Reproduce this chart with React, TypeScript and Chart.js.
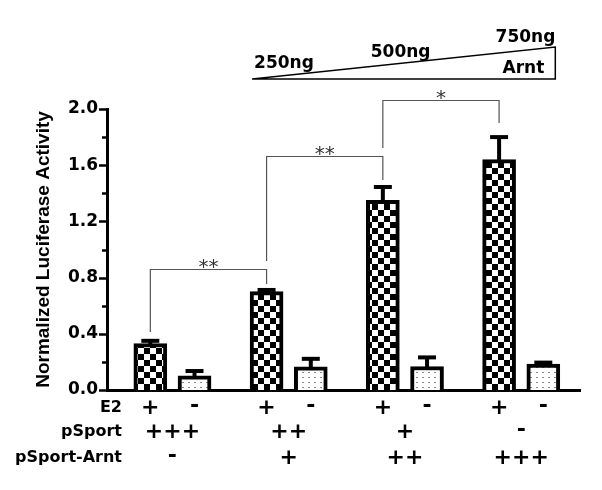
import React, { useEffect, useRef } from 'react';
import { Chart, registerables } from 'chart.js';

Chart.register(...registerables);

// ---- data ----
const groups = ['G1', 'G2', 'G3', 'G4'];
const e2PlusValues = [0.33, 0.70, 1.35, 1.64];
const e2PlusErrors = [0.02, 0.012, 0.095, 0.16];
const e2MinusValues = [0.10, 0.165, 0.167, 0.185];
const e2MinusErrors = [0.035, 0.057, 0.065, 0.01];
const yMin = 0;
const yMax = 2.0;
const yStep = 0.2;
const yTitle = 'Normalized Luciferase Activity';
const rowNames = ['E2', 'pSport', 'pSport-Arnt'];
const e2Signs = ['+', '-'];
const pSportSigns = ['+++', '++', '+', '-'];
const arntSigns = ['-', '+', '++', '+++'];
const doseLabels = ['250ng', '500ng', '750ng'];
const doseName = 'Arnt';
// significance brackets: between E2+ bars of groups
const sigFromGroup = [0, 1, 2];
const sigToGroup = [1, 2, 3];
const sigLevel = [0.861, 1.665, 2.064];
const sigFromEnd = [0.413, 0.918, 1.722];
const sigToEnd = [0.754, 1.495, 1.9];
const sigText = ['**', '**', '*'];

// ---- layout ----
const GROUP_STEP = 2.63;
const BAR_W = 33;
const FONT = '"DejaVu Sans", sans-serif';

const barX = (g: number, j: number) => g * GROUP_STEP + j;

function makeChecker(): CanvasPattern | string {
  const c = document.createElement('canvas');
  c.width = 12; c.height = 12;
  const x = c.getContext('2d')!;
  x.fillStyle = '#fff'; x.fillRect(0, 0, 12, 12);
  x.fillStyle = '#000';
  x.fillRect(0, 0, 6, 6); x.fillRect(6, 6, 6, 6);
  return x.createPattern(c, 'repeat') || '#888';
}
function makeDots(): CanvasPattern | string {
  const c = document.createElement('canvas');
  c.width = 6; c.height = 5;
  const x = c.getContext('2d')!;
  x.fillStyle = '#fff'; x.fillRect(0, 0, 6, 5);
  x.fillStyle = '#8a8a8a';
  x.fillRect(2, 2, 2, 1);
  return x.createPattern(c, 'repeat') || '#eee';
}

const decorPlugin = {
  id: 'decor',
  afterDatasetsDraw(chart: any) {
    const ctx: CanvasRenderingContext2D = chart.ctx;
    const xs = chart.scales.x;
    const ys = chart.scales.y;
    const area = chart.chartArea;
    ctx.save();

    // y tick marks (major/minor)
    ctx.strokeStyle = '#000';
    ctx.lineWidth = 2.5;
    ys.ticks.forEach((t: any, i: number) => {
      const y = Math.round(ys.getPixelForValue(t.value)) + 0.5;
      const len = i % 2 === 0 ? 8 : 5;
      ctx.beginPath();
      ctx.moveTo(area.left - len, y);
      ctx.lineTo(area.left, y);
      ctx.stroke();
    });

    // error bars (upper only)
    const errs = [e2PlusErrors, e2MinusErrors];
    const vals = [e2PlusValues, e2MinusValues];
    chart.data.datasets.forEach((_: any, di: number) => {
      const meta = chart.getDatasetMeta(di);
      meta.data.forEach((el: any, i: number) => {
        const yTop = el.y;
        const yCap = ys.getPixelForValue(vals[di][i] + errs[di][i]);
        ctx.strokeStyle = '#000';
        ctx.lineWidth = 4;
        ctx.lineCap = 'butt';
        ctx.beginPath();
        ctx.moveTo(el.x, yTop + 2);
        ctx.lineTo(el.x, yCap);
        ctx.stroke();
        ctx.beginPath();
        ctx.moveTo(el.x - 9, yCap);
        ctx.lineTo(el.x + 9, yCap);
        ctx.stroke();
      });
    });

    // significance brackets
    ctx.strokeStyle = '#555';
    ctx.lineWidth = 1.2;
    sigText.forEach((txt, k) => {
      const x1 = xs.getPixelForValue(barX(sigFromGroup[k], 0));
      const x2 = xs.getPixelForValue(barX(sigToGroup[k], 0));
      const yl = Math.round(ys.getPixelForValue(sigLevel[k])) + 0.5;
      const y1 = ys.getPixelForValue(sigFromEnd[k]);
      const y2 = ys.getPixelForValue(sigToEnd[k]);
      ctx.beginPath();
      ctx.moveTo(x1, y1);
      ctx.lineTo(x1, yl);
      ctx.lineTo(x2, yl);
      ctx.lineTo(x2, y2);
      ctx.stroke();
      ctx.fillStyle = '#333';
      ctx.font = `20px ${FONT}`;
      ctx.textAlign = 'center';
      ctx.textBaseline = 'alphabetic';
      ctx.fillText(txt, (x1 + x2) / 2, yl + 3);
    });

    // dose triangle
    const tl = xs.getPixelForValue(barX(1, 0)) - BAR_W / 2 + 2;
    const tr = xs.getPixelForValue(barX(3, 1)) + 12;
    const tb = area.top - 30;
    const tt = area.top - 62;
    ctx.strokeStyle = '#000';
    ctx.lineWidth = 1.5;
    ctx.beginPath();
    ctx.moveTo(tl, tb);
    ctx.lineTo(tr, tb);
    ctx.lineTo(tr, tt);
    ctx.closePath();
    ctx.stroke();
    ctx.fillStyle = '#000';
    ctx.font = `bold 17px ${FONT}`;
    ctx.textBaseline = 'alphabetic';
    ctx.textAlign = 'left';
    ctx.fillText(doseLabels[0], tl + 2, tb - 11);
    ctx.textAlign = 'center';
    ctx.fillText(doseLabels[1], tl + (tr - tl) * 0.49, tb - 22);
    ctx.textAlign = 'right';
    ctx.fillText(doseLabels[2], tr, tt - 5);
    ctx.fillText(doseName, tr - 11, tb - 6);

    // bottom condition table
    const rowY = [area.bottom + 18, area.bottom + 42, area.bottom + 68];
    ctx.font = `bold 16px ${FONT}`;
    ctx.textAlign = 'right';
    ctx.textBaseline = 'middle';
    rowNames.forEach((n, r) => ctx.fillText(n, area.left + 15, rowY[r]));

    ctx.font = `bold 22px ${FONT}`;
    ctx.textAlign = 'center';
    const drawSign = (s: string, x: number, y: number) => {
      const dy = s.indexOf('+') >= 0 ? 0 : -2;
      ctx.fillText(s, x, y + dy);
    };
    groups.forEach((_, g) => {
      e2Signs.forEach((s, j) => drawSign(s, xs.getPixelForValue(barX(g, j)), rowY[0]));
      const cx = xs.getPixelForValue(barX(g, 0.5));
      drawSign(pSportSigns[g], cx, rowY[1]);
      drawSign(arntSigns[g], cx, rowY[2]);
    });

    ctx.restore();
  },
};

export default function App() {
  const ref = useRef<HTMLCanvasElement | null>(null);
  useEffect(() => {
    if (!ref.current) return;
    const checker = makeChecker();
    const dots = makeDots();
    const chart = new Chart(ref.current, {
      type: 'bar',
      data: {
        datasets: [
          {
            label: 'E2 +',
            data: groups.map((_, g) => ({ x: barX(g, 0), y: e2PlusValues[g] })),
            backgroundColor: checker as any,
            borderColor: '#000',
            borderWidth: 4,
            borderSkipped: 'start',
            barThickness: BAR_W,
            grouped: false,
          },
          {
            label: 'E2 -',
            data: groups.map((_, g) => ({ x: barX(g, 1), y: e2MinusValues[g] })),
            backgroundColor: dots as any,
            borderColor: '#000',
            borderWidth: 4,
            borderSkipped: 'start',
            barThickness: BAR_W,
            grouped: false,
          },
        ],
      },
      options: {
        animation: false,
        responsive: false,
        maintainAspectRatio: false,
        layout: { padding: { top: 109, bottom: 100, left: 0, right: 22 } },
        plugins: { legend: { display: false }, tooltip: { enabled: false } },
        scales: {
          x: {
            type: 'linear',
            offset: false,
            min: -0.98,
            max: 9.72,
            grid: { display: false, drawTicks: false, offset: false },
            ticks: { display: false },
            border: { display: true, color: '#000', width: 3 },
            afterFit: (s: any) => { s.height = 0; },
          },
          y: {
            min: yMin,
            max: yMax,
            ticks: {
              stepSize: yStep,
              color: '#000',
              padding: 9,
              font: { family: FONT, weight: 'bold', size: 17 },
              callback: (v: any, i: number) => (i % 2 === 0 ? Number(v).toFixed(1) : ''),
            },
            grid: { display: false, drawTicks: false },
            border: { display: true, color: '#000', width: 3 },
            title: {
              display: true,
              text: yTitle,
              color: '#000',
              font: { family: '"Liberation Sans", Arial, sans-serif', weight: 'bold', size: 19 },
              padding: { top: 32, bottom: 0 },
            },
            afterFit: (s: any) => { s.width = 107; },
          },
        },
      },
      plugins: [decorPlugin],
    });
    return () => chart.destroy();
  }, []);
  return (
    <div style={{ position: 'fixed', left: 0, top: 0, width: 602, height: 490, background: '#fff' }}>
      <canvas ref={ref} width={602} height={490} style={{ width: 602, height: 490 }} />
    </div>
  );
}
